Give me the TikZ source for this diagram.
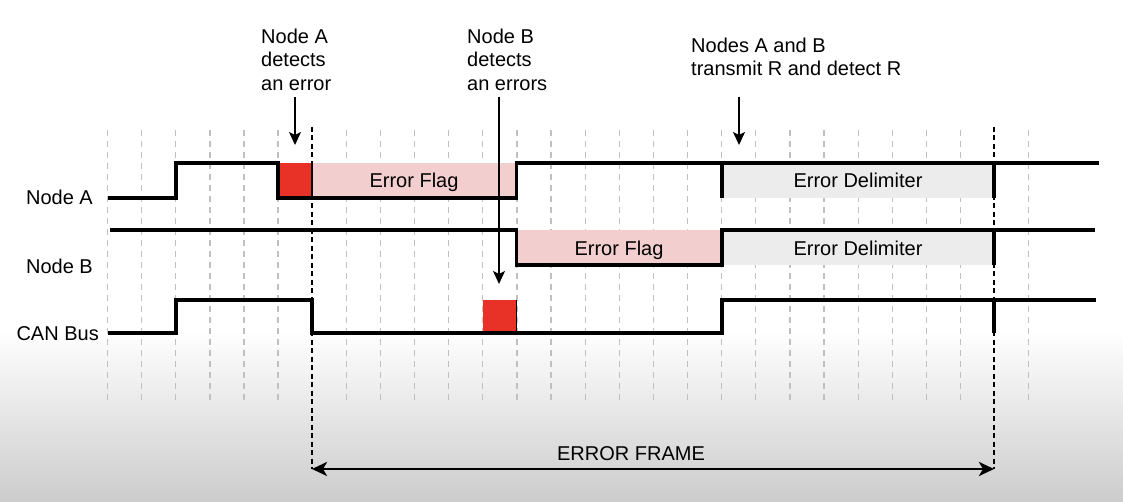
\documentclass[tikz,border=0pt]{standalone}
\usepackage{fontspec}
\setmainfont{Liberation Sans}
\usetikzlibrary{arrows.meta}
\definecolor{errred}{RGB}{232,50,40}
\definecolor{flagpink}{RGB}{243,206,206}
\definecolor{delimgray}{RGB}{236,236,236}
\definecolor{gridgray}{RGB}{192,192,192}
\definecolor{bggray}{RGB}{204,204,204}
\begin{document}
\begin{tikzpicture}[x=1pt,y=-1pt,
  sig/.style={line width=3.2pt, line join=miter, black},
  tick/.style={line width=3.2pt, black},
  edge/.style={line width=1.6pt, black},
  gridline/.style={gridgray, line width=1.3pt, dash pattern=on 6pt off 5pt},
  framemark/.style={black, line width=1.5pt, dash pattern=on 5pt off 3.5pt},
  lbl/.style={font=\fontsize{20}{23.5}\selectfont, inner sep=0pt, align=left},
  annarrow/.style={line width=1.4pt, -{Stealth[length=13pt,width=12pt,inset=3pt]}},
  framearrow/.style={line width=2.8pt, {Stealth[length=15pt,width=14pt,inset=4pt]}-{Stealth[length=15pt,width=14pt,inset=4pt]}}
]
\useasboundingbox (0,0) rectangle (1123,502);
\fill[white] (0,0) rectangle (1123,502);
\fill[top color=white, bottom color=bggray] (0,330) rectangle (1123,502);

% grid
\foreach \i in {0,...,5,7,8,...,25,27}{
  \draw[gridline] ({107.5+34.12*\i},130) -- ({107.5+34.12*\i},402);
}

% boxes
\fill[errred] (278,163) rectangle (312,198);
\fill[flagpink] (312,163) rectangle (516.5,198);
\fill[delimgray] (722,163) rectangle (994,198);
\fill[flagpink] (516.5,230) rectangle (722,265);
\fill[delimgray] (722,230) rectangle (994,265);
\fill[errred] (482.5,300) rectangle (516.5,333);

% frame markers
\coordinate (fTL) at (312,127);
\coordinate (fBL) at (312,469);
\coordinate (fTR) at (994,127);
\coordinate (fBR) at (994,469);
\draw[framemark] (fTL) -- (fBL);
\draw[framemark] (fTR) -- (fBR);

% Node A signal
\draw[sig] (108,198) -- (176,198) -- (176,163) -- (278,163) -- (278,198) -- (516.5,198) -- (516.5,163) -- (1099,163);
\draw[tick] (722,163) -- (722,198);
\draw[tick] (994,163) -- (994,198);
\draw[edge] (312,163) -- (312,198);

% Node B signal
\draw[sig] (110,230) -- (516.5,230) -- (516.5,265) -- (722,265) -- (722,230) -- (1095,230);
\draw[tick] (994,230) -- (994,265);

% CAN Bus signal
\draw[sig] (108,333) -- (176,333) -- (176,300) -- (312,300) -- (312,333) -- (722,333) -- (722,300) -- (1096,300);
\draw[tick] (994,300) -- (994,333);
\draw[edge] (516.5,300) -- (516.5,333);

% signal labels
\node[lbl, anchor=base east] (labA) at (93,205) {Node A};
\node[lbl, anchor=base east] (labB) at (93,274) {Node B};
\node[lbl, anchor=base east] (labC) at (99,340) {CAN Bus};

% box texts
\node[lbl, anchor=base] (flagA) at (414,188) {Error Flag};
\node[lbl, anchor=base] (delimA) at (858,188) {Error Delimiter};
\node[lbl, anchor=base] (flagB) at (619,256) {Error Flag};
\node[lbl, anchor=base] (delimB) at (858,256) {Error Delimiter};

% annotations
\node[lbl, anchor=north west] (annA) at (261,28.7) {Node A\\detects\\an error};
\node[lbl, anchor=north west] (annB) at (467,28.7) {Node B\\detects\\an errors};
\node[lbl, anchor=north west] (annC) at (691,37.7) {Nodes A and B\\transmit R and detect R};

\coordinate (aAs) at (295,97);
\coordinate (aAe) at (295,145);
\coordinate (aBs) at (499,97);
\coordinate (aBe) at (499,284);
\coordinate (aCs) at (739,97);
\coordinate (aCe) at (739,145);
\draw[annarrow] (aAs) -- (aAe);
\draw[annarrow] (aBs) -- (aBe);
\draw[annarrow] (aCs) -- (aCe);

% error frame
\node[lbl, anchor=base] (ef) at (631,460) {ERROR FRAME};
\draw[framearrow] (fBL) -- (fBR);
\end{tikzpicture}
\end{document}
